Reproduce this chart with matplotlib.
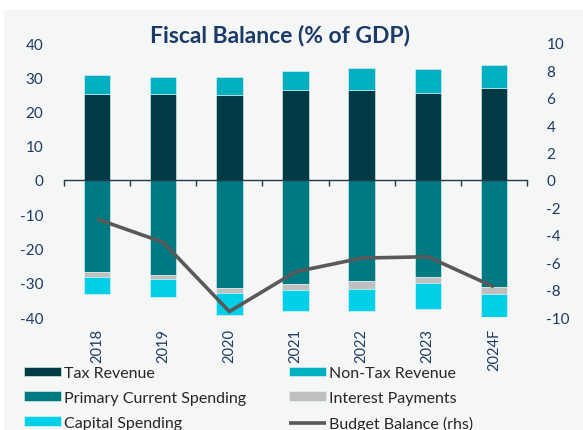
import numpy as np
import matplotlib
matplotlib.use("Agg")
import matplotlib.pyplot as plt
from matplotlib.patches import Rectangle
import matplotlib.transforms as mtransforms

years = ["2018", "2019", "2020", "2021", "2022", "2023", "2024F"]
tax_revenue = [25.1, 25.1, 24.7, 26.2, 26.2, 25.5, 27.0]
non_tax_revenue = [5.6, 5.0, 5.5, 5.7, 6.6, 6.9, 6.7]
primary_spending = [-26.8, -27.7, -31.5, -30.3, -29.6, -28.2, -31.1]
interest_payments = [-1.4, -1.3, -1.5, -1.7, -2.1, -2.0, -2.1]
capital_spending = [-5.0, -5.3, -6.3, -6.2, -6.5, -7.5, -6.7]
budget_balance = [-2.85, -4.55, -9.6, -6.7, -5.7, -5.6, -7.8]

left_ticks = [40, 30, 20, 10, 0, -10, -20, -30, -40]
right_ticks = [10, 8, 6, 4, 2, 0, -2, -4, -6, -8, -10]

c_tax = "#003A44"
c_nontax = "#00AFC0"
c_primary = "#007A82"
c_interest = "#BFBFBF"
c_capital = "#00CFE8"
c_line = "#595959"
c_text = "#1F3A60"
bg = "#F5F7F7"

plt.rcParams["font.family"] = ["Lato", "DejaVu Sans"]

W, H = 583, 431
fig = plt.figure(figsize=(W / 100, H / 100), dpi=100, facecolor="white")
fig.patches.append(Rectangle((4 / W, 0), 1 - 4 / W, 1 - 11 / H,
                             transform=fig.transFigure, color=bg, zorder=-10))

ax = fig.add_axes([64 / W, 1 - 318 / H, (527 - 64) / W, (318 - 44) / H])
ax.set_facecolor("none")
x = np.arange(len(years))
bw = 0.4
edge = dict(edgecolor="#E8F4F5", linewidth=0.4)

ax.bar(x, tax_revenue, bw, color=c_tax, label="Tax Revenue", **edge)
ax.bar(x, non_tax_revenue, bw, bottom=tax_revenue, color=c_nontax,
       label="Non-Tax Revenue", **edge)
ax.bar(x, primary_spending, bw, color=c_primary,
       label="Primary Current Spending", **edge)
ax.bar(x, interest_payments, bw, bottom=primary_spending, color=c_interest,
       label="Interest Payments", **edge)
bottom2 = np.array(primary_spending) + np.array(interest_payments)
ax.bar(x, capital_spending, bw, bottom=bottom2, color=c_capital,
       label="Capital Spending", **edge)

ax.set_xlim(-0.5, len(years) - 0.5)
ax.set_ylim(-40, 40)
ax.set_yticks(left_ticks)
ax.set_yticklabels([str(t) for t in left_ticks])
for s in ["top", "right", "left"]:
    ax.spines[s].set_visible(False)
ax.spines["bottom"].set_position(("data", 0))
ax.spines["bottom"].set_color("#1F3A4A")
ax.spines["bottom"].set_linewidth(1.0)
ax.set_xticks(np.arange(len(years) + 1) - 0.5)
ax.set_xticklabels([])
ax.tick_params(axis="x", direction="out", length=4, color="#1F3A4A", width=1)
ax.tick_params(axis="y", length=0, pad=15, labelsize=11, labelcolor=c_text)

trans = mtransforms.blended_transform_factory(ax.transData, ax.transAxes)
for i, yr in enumerate(years):
    ax.text(i, -0.04, yr, rotation=90, ha="center", va="top",
            transform=trans, fontsize=10.5, color=c_text)

ax2 = ax.twinx()
ax2.plot(x, budget_balance, color=c_line, linewidth=2.6,
         solid_capstyle="butt", label="Budget Balance (rhs)")
ax2.set_ylim(-10, 10)
ax2.set_yticks(right_ticks)
ax2.set_yticklabels([str(t) for t in right_ticks])
for s in ax2.spines.values():
    s.set_visible(False)
ax2.tick_params(axis="y", length=0, pad=14, labelsize=11, labelcolor=c_text)

fig.text(280 / W, 1 - 36 / H, "Fiscal Balance (% of GDP)", ha="center",
         va="center", fontsize=16.5, fontweight="bold", color="#1B3A66")

h1, l1 = ax.get_legend_handles_labels()
h2, l2 = ax2.get_legend_handles_labels()
hd = dict(zip(l1 + l2, h1 + h2))
order = ["Tax Revenue", "Primary Current Spending", "Capital Spending",
         "Non-Tax Revenue", "Interest Payments", "Budget Balance (rhs)"]
fig.legend([hd[k] for k in order], order, ncol=2, frameon=False,
           loc="upper left", bbox_to_anchor=(24 / W, 1 - 367 / H),
           fontsize=11.5, labelcolor="#262626", handlelength=2.3,
           handleheight=0.55, handletextpad=0.2, columnspacing=2.7,
           labelspacing=0.68, borderaxespad=0, borderpad=0)

fig.savefig("out.png", dpi=100, facecolor=fig.get_facecolor())
